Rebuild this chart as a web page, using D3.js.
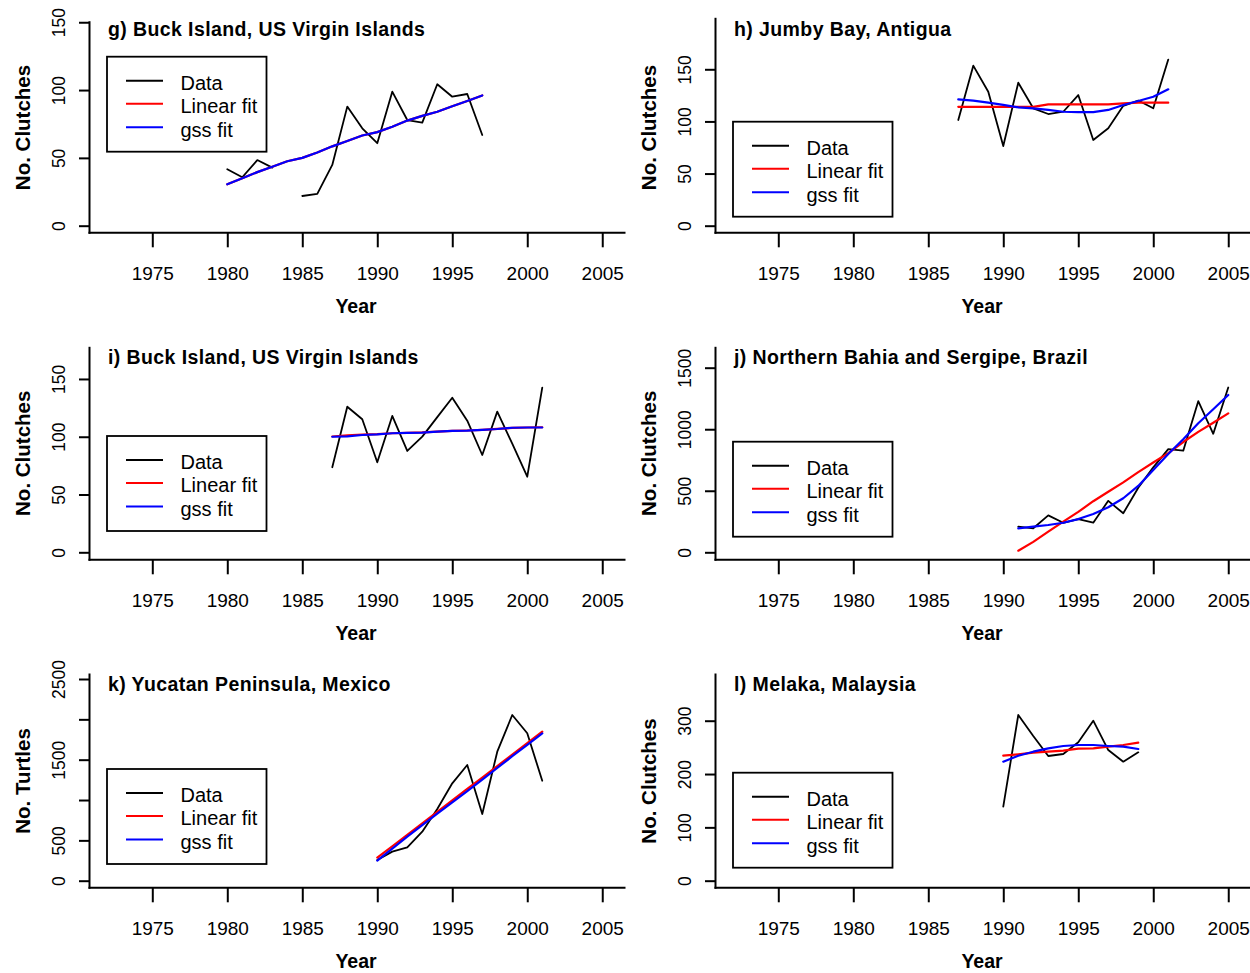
<!DOCTYPE html>
<html>
<head>
<meta charset="utf-8">
<script src="https://cdn.jsdelivr.net/npm/d3@7"></script>
<style>
  html, body { margin: 0; padding: 0; background: #fff; }
  svg { display: block; }
  text { font-family: "Liberation Sans", Arial, Helvetica, sans-serif; fill: #000; }
</style>
</head>
<body>
<svg id="chart" width="1250" height="973"></svg>
<script>
// ---- shared axis / legend content ----
const xTickYears = [1975, 1980, 1985, 1990, 1995, 2000, 2005];
const legendLabels = ["Data", "Linear fit", "gss fit"];
const seriesColors = ["#000000", "#ff0000", "#0000ff"];

// ---- g) Buck Island, US Virgin Islands (1984 missing) ----
const gYears  = [1980, 1981, 1982, 1983, 1984, 1985, 1986, 1987, 1988, 1989, 1990, 1991, 1992, 1993, 1994, 1995, 1996, 1997];
const gData   = [41.6, 35.7, 48.4, 42.8, null, 21.9, 23.4, 44.8, 87.8, 71.8, 60.8, 98.8, 77.9, 76.0, 104.3, 95.1, 97.1, 66.9];
const gLinear = [30.5, 35.0, 39.5, 43.5, 47.5, 50.0, 54.0, 58.5, 62.5, 66.5, 69.0, 73.0, 77.5, 81.0, 84.0, 88.0, 92.0, 96.0];
const gGss    = [30.5, 35.0, 39.5, 43.5, 47.5, 50.0, 54.0, 58.5, 62.5, 66.5, 69.0, 73.0, 77.5, 81.0, 84.0, 88.0, 92.0, 96.0];
const gTicks  = [0, 50, 100, 150];

// ---- h) Jumby Bay, Antigua ----
const hYears  = [1987, 1988, 1989, 1990, 1991, 1992, 1993, 1994, 1995, 1996, 1997, 1998, 1999, 2000, 2001];
const hData   = [101.4, 153.5, 128.5, 76.4, 137.1, 112.6, 107.1, 109.3, 125.3, 82.2, 93.4, 115.0, 120.0, 112.6, 159.3];
const hLinear = [114.0, 114.0, 114.0, 114.0, 114.0, 114.0, 116.4, 116.4, 116.4, 116.4, 116.4, 117.4, 118.0, 118.0, 118.0];
const hGss    = [121.2, 119.9, 118.0, 115.8, 113.5, 112.6, 111.0, 109.3, 109.0, 109.0, 111.0, 115.8, 119.6, 123.7, 130.8];
const hTicks  = [0, 50, 100, 150];

// ---- i) Buck Island, US Virgin Islands ----
const iYears  = [1987, 1988, 1989, 1990, 1991, 1992, 1993, 1994, 1995, 1996, 1997, 1998, 1999, 2000, 2001];
const iData   = [73.6, 126.0, 115.1, 77.9, 118.0, 87.7, 100.1, 117.0, 133.8, 113.9, 84.2, 121.7, 94.0, 65.4, 142.5];
const iLinear = [100.2, 101.3, 101.8, 102.2, 103.0, 103.4, 103.8, 104.5, 105.0, 105.4, 106.0, 106.8, 107.6, 108.0, 108.2];
const iGss    = [100.0, 100.3, 101.5, 102.0, 103.0, 103.3, 103.5, 104.5, 105.0, 105.3, 106.0, 106.7, 107.8, 108.0, 108.0];
const iTicks  = [0, 50, 100, 150];

// ---- j) Northern Bahia and Sergipe, Brazil ----
const jYears  = [1991, 1992, 1993, 1994, 1995, 1996, 1997, 1998, 1999, 2000, 2001, 2002, 2003, 2004, 2005];
const jData   = [208, 195, 300, 240, 270, 241, 418, 317, 525, 690, 838, 826, 1228, 963, 1339];
const jLinear = [13, 85, 168, 249, 328, 415, 492, 568, 652, 730, 806, 896, 978, 1053, 1129];
const jGss    = [195, 208, 222, 240, 270, 311, 366, 439, 539, 669, 799, 918, 1048, 1162, 1278];
const jTicks  = [0, 500, 1000, 1500];

// ---- k) Yucatan Peninsula, Mexico ----
const kYears  = [1990, 1991, 1992, 1993, 1994, 1995, 1996, 1997, 1998, 1999, 2000, 2001];
const kData   = [257, 360, 414, 607, 889, 1207, 1434, 827, 1599, 2054, 1827, 1239];
const kLinear = [285, 427, 569, 711, 853, 995, 1137, 1279, 1421, 1563, 1705, 1847];
const kGss    = [250, 398, 545, 688, 830, 970, 1110, 1252, 1397, 1543, 1685, 1825];
const kTicks  = [0, 500, 1000, 1500, 2000, 2500];
const kTickLabels = [0, 500, 1500, 2500];

// ---- l) Melaka, Malaysia ----
const lYears  = [1990, 1991, 1992, 1993, 1994, 1995, 1996, 1997, 1998, 1999];
const lData   = [138.8, 310.7, 271.3, 233.8, 237.6, 259.5, 300.0, 245.0, 223.2, 240.7];
const lLinear = [234.5, 237.0, 240.0, 241.9, 243.8, 247.6, 248.2, 251.3, 254.5, 258.8];
const lGss    = [223.2, 234.4, 241.9, 248.2, 252.6, 254.5, 254.5, 252.6, 251.3, 247.0];
const lTicks  = [0, 100, 200, 300];

// ---- page layout (pixels) ----
const W = 1250, H = 973;
const colLeft  = [89, 715];
const colRight = [624, 1250];
const rowBottom = [232.3, 559.3, 887.3];
const rowMid    = [127.5, 453.3, 781];
const titleBase = [35.5, 364.3, 691];
const xDomain = [1970.78, 2006.45];

const panels = [
  { title: "g) Buck Island, US Virgin Islands", ylab: "No. Clutches", col: 0, row: 0, top: 21.7,
    years: gYears, series: [gData, gLinear, gGss], ticks: gTicks, yDomain: [-4.87, 150.4], legendTop: 56.7 },
  { title: "h) Jumby Bay, Antigua", ylab: "No. Clutches", col: 1, row: 0, top: 18.3,
    years: hYears, series: [hData, hLinear, hGss], ticks: hTicks, yDomain: [-6.33, 198.9], legendTop: 121.7 },
  { title: "i) Buck Island, US Virgin Islands", ylab: "No. Clutches", col: 0, row: 1, top: 347.3,
    years: iYears, series: [iData, iLinear, iGss], ticks: iTicks, yDomain: [-6.06, 177.4], legendTop: 436 },
  { title: "j) Northern Bahia and Sergipe, Brazil", ylab: "No. Clutches", col: 1, row: 1, top: 347.3,
    years: jYears, series: [jData, jLinear, jGss], ticks: jTicks, yDomain: [-56.9, 1665.7], legendTop: 441.7 },
  { title: "k) Yucatan Peninsula, Mexico", ylab: "No. Turtles", col: 0, row: 2, top: 674,
    years: kYears, series: [kData, kLinear, kGss], ticks: kTicks, tickLabels: kTickLabels, yDomain: [-81.8, 2562], legendTop: 769 },
  { title: "l) Melaka, Malaysia", ylab: "No. Clutches", col: 1, row: 2, top: 674,
    years: lYears, series: [lData, lLinear, lGss], ticks: lTicks, yDomain: [-12.4, 387.6], legendTop: 772.7 }
];

const svg = d3.select("#chart");
svg.append("rect").attr("width", W).attr("height", H).attr("fill", "#fff");

panels.forEach(p => {
  const left = colLeft[p.col], right = colRight[p.col];
  const bottom = rowBottom[p.row];
  const x = d3.scaleLinear().domain(xDomain).range([left, right]);
  const y = d3.scaleLinear().domain(p.yDomain).range([bottom, p.top]);
  const g = svg.append("g");

  // bottom axis
  const xAxis = g.append("g")
    .attr("transform", `translate(0,${bottom})`)
    .call(d3.axisBottom(x).tickValues(xTickYears).tickFormat(d3.format("d"))
      .tickSize(15).tickSizeOuter(0));
  xAxis.attr("font-family", null).attr("font-size", null);
  xAxis.select(".domain").attr("stroke-width", 2).attr("stroke-linecap", "square");
  xAxis.selectAll(".tick line").attr("stroke-width", 2);
  xAxis.selectAll(".tick text")
    .attr("y", 47.5).attr("dy", 0)
    .style("font-size", "19px");

  // left axis
  const labelSet = p.tickLabels || p.ticks;
  const yAxis = g.append("g")
    .attr("transform", `translate(${left},0)`)
    .call(d3.axisLeft(y).tickValues(p.ticks)
      .tickFormat(d => labelSet.includes(d) ? String(d) : "")
      .tickSize(10).tickSizeOuter(0));
  yAxis.attr("font-family", null).attr("font-size", null);
  yAxis.select(".domain").attr("stroke-width", 2).attr("stroke-linecap", "square");
  yAxis.selectAll(".tick line").attr("stroke-width", 2);
  yAxis.selectAll(".tick text")
    .attr("x", 0).attr("y", 0).attr("dy", 0)
    .attr("text-anchor", "middle")
    .attr("transform", "translate(-24.4,0) rotate(-90)")
    .style("font-size", "17.5px");

  // axis titles
  g.append("text")
    .attr("x", (left + right) / 2 - 0.5).attr("y", bottom + 81)
    .attr("text-anchor", "middle")
    .style("font-size", "19.5px").style("font-weight", "bold")
    .text("Year");
  g.append("text")
    .attr("transform", `translate(${left - 58.7},${rowMid[p.row]}) rotate(-90)`)
    .attr("text-anchor", "middle")
    .style("font-size", "20.5px").style("font-weight", "bold")
    .text(p.ylab);

  // panel title
  g.append("text")
    .attr("x", left + 19).attr("y", titleBase[p.row])
    .style("font-size", "19.5px").style("font-weight", "bold")
    .style("letter-spacing", "0.4px")
    .text(p.title);

  // data, linear fit, gss fit
  p.series.forEach((vals, si) => {
    const pts = p.years.map((yr, k) => [yr, vals[k]]);
    const line = d3.line()
      .defined(d => d[1] !== null)
      .x(d => x(d[0]))
      .y(d => y(d[1]));
    g.append("path")
      .attr("d", line(pts))
      .attr("fill", "none")
      .attr("stroke", seriesColors[si])
      .attr("stroke-width", si === 0 ? 1.8 : 2.2)
      .attr("stroke-linejoin", "round")
      .attr("stroke-linecap", "round");
  });

  // legend
  const lx = left + 18, ly = p.legendTop;
  const leg = g.append("g");
  leg.append("rect")
    .attr("x", lx).attr("y", ly).attr("width", 159.5).attr("height", 95)
    .attr("fill", "#fff").attr("stroke", "#000").attr("stroke-width", 1.8);
  const rowOffsets = [24, 47, 70.5];
  legendLabels.forEach((lab, li) => {
    const yy = ly + rowOffsets[li];
    leg.append("line")
      .attr("x1", lx + 19).attr("x2", lx + 56)
      .attr("y1", yy).attr("y2", yy)
      .attr("stroke", seriesColors[li]).attr("stroke-width", 2);
    leg.append("text")
      .attr("x", lx + 73.5).attr("y", yy + 9.3)
      .style("font-size", "20px")
      .text(lab);
  });
});
</script>
</body>
</html>
